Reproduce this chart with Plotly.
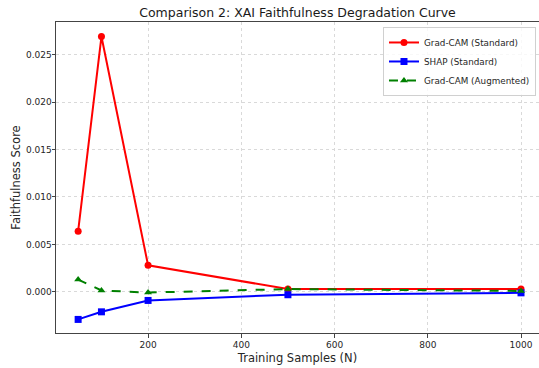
import plotly.graph_objects as go

samples = [50, 100, 200, 500, 1000]
gradcam_std = [0.0064, 0.0269, 0.0028, 0.0003, 0.0003]
shap_std = [-0.0029, -0.0021, -0.0009, -0.0003, -0.0001]
gradcam_aug = [0.0013, 0.00015, -0.00007, 0.0003, 0.0001]

x_ticks = [200, 400, 600, 800, 1000]
y_ticks = [0.0, 0.005, 0.010, 0.015, 0.020, 0.025]
y_tick_text = ["0.000", "0.005", "0.010", "0.015", "0.020", "0.025"]

font = "DejaVu Sans, Liberation Sans, sans-serif"

fig = go.Figure()
fig.add_trace(go.Scatter(x=samples, y=gradcam_std, mode="lines+markers", name="Grad-CAM (Standard)",
                         line=dict(color="#ff0000", width=2), marker=dict(symbol="circle", size=7, color="#ff0000")))
fig.add_trace(go.Scatter(x=samples, y=shap_std, mode="lines+markers", name="SHAP (Standard)",
                         line=dict(color="#0000ff", width=2), marker=dict(symbol="square", size=7, color="#0000ff")))
fig.add_trace(go.Scatter(x=samples, y=gradcam_aug, mode="lines+markers", name="Grad-CAM (Augmented)",
                         line=dict(color="#008000", width=2, dash="dash"),
                         marker=dict(symbol="triangle-up", size=7, color="#008000")))

fig.update_layout(
    width=539, height=368,
    margin=dict(l=56, r=0, t=22, b=35),
    paper_bgcolor="white", plot_bgcolor="white",
    font=dict(family=font, color="#262626", size=9),
    title=dict(text="Comparison 2: XAI Faithfulness Degradation Curve", x=0.552, xanchor="center",
               y=0.967, yanchor="middle", font=dict(size=12.5, color="#1a1a1a")),
    legend=dict(x=0.677, y=0.984, xanchor="left", yanchor="top", bgcolor="rgba(255,255,255,0.8)",
                bordercolor="#d0d0d0", borderwidth=1, font=dict(size=8.8), tracegroupgap=0,
                itemwidth=30),
    showlegend=True,
)
fig.update_xaxes(range=[2.5, 1038.6], tickvals=x_ticks, showgrid=True, gridcolor="#d9d9d9", griddash="dot",
                 gridwidth=0.8, zeroline=False, showline=True, linecolor="#444444", linewidth=1, mirror=True,
                 ticks="outside", ticklen=3.5, tickcolor="#444444",
                 title=dict(text="Training Samples (N)", font=dict(size=11.5), standoff=4))
fig.update_yaxes(range=[-0.00433, 0.02843], tickvals=y_ticks, ticktext=y_tick_text, showgrid=True,
                 gridcolor="#d9d9d9", griddash="dot", gridwidth=0.8, zeroline=False, showline=True,
                 linecolor="#444444", linewidth=1, mirror=False, ticks="outside", ticklen=3.5, tickcolor="#444444",
                 ticklabelstandoff=-2,
                 title=dict(text="Faithfulness Score", font=dict(size=11.5), standoff=2))

fig.write_html("out.html", config={"displayModeBar": False},
               post_script="document.body.style.margin='0';document.body.style.overflow='hidden';")
